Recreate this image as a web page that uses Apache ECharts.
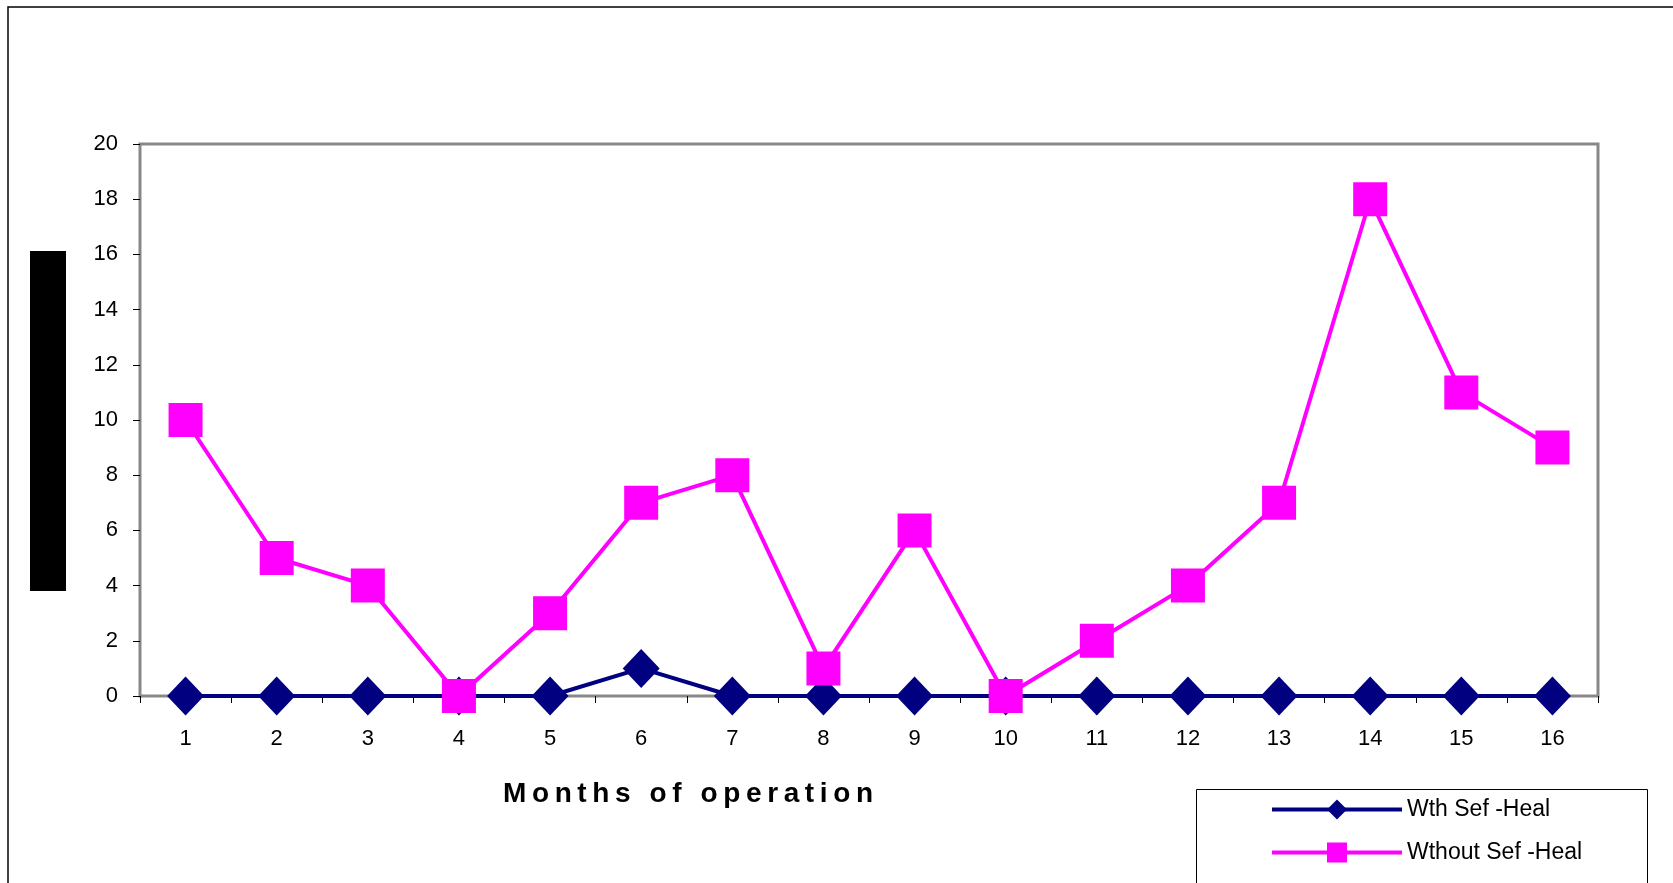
<!DOCTYPE html>
<html>
<head>
<meta charset="utf-8">
<script src="https://cdn.jsdelivr.net/npm/echarts@6/dist/echarts.min.js"></script>
<style>
  html, body { margin: 0; padding: 0; background: #fff; }
  #chart { width: 1673px; height: 883px; }
</style>
</head>
<body>
<div id="chart"></div>
<script>
// months on the x axis
var months = ['1', '2', '3', '4', '5', '6', '7', '8', '9', '10', '11', '12', '13', '14', '15', '16'];
// series values
var withHeal = [0, 0, 0, 0, 0, 1, 0, 0, 0, 0, 0, 0, 0, 0, 0, 0];
var withoutHeal = [10, 5, 4, 0, 3, 7, 8, 1, 6, 0, 2, 4, 7, 18, 11, 9];
var seriesNames = ['Wth Sef -Heal', 'Wthout Sef -Heal'];
var xTitle = 'Months of operation';

var font = 'Liberation Sans, Arial, sans-serif';
var chart = echarts.init(document.getElementById('chart'));

var option = {
  backgroundColor: '#fff',
  animation: false,
  textStyle: { fontFamily: font, color: '#000' },
  grid: {
    left: 140, top: 144, right: 75, bottom: 187,
    show: true, borderColor: '#888', borderWidth: 3, backgroundColor: 'transparent'
  },
  xAxis: {
    type: 'category',
    data: months,
    boundaryGap: true,
    axisLine: { show: false },
    axisTick: { show: true, interval: 0, length: 7, lineStyle: { color: '#000', width: 1 } },
    axisLabel: { fontSize: 22, color: '#000', margin: 32, fontFamily: font },
    splitLine: { show: false }
  },
  yAxis: {
    type: 'value',
    min: 0, max: 20, interval: 2,
    axisLine: { show: false },
    axisTick: { show: true, length: 7, lineStyle: { color: '#000', width: 1 } },
    axisLabel: { fontSize: 22, color: '#000', margin: 22, fontFamily: font },
    splitLine: { show: false }
  },
  legend: {
    orient: 'vertical',
    left: 1196, top: 789,
    itemWidth: 130, itemHeight: 25, itemGap: 20,
    padding: [9, 0, 0, 74],
    lineStyle: { width: 4 },
    textStyle: { fontSize: 23, color: '#000', fontFamily: font },
    data: seriesNames
  },
  series: [
    {
      name: seriesNames[0],
      type: 'line',
      data: withHeal,
      symbol: 'diamond',
      symbolSize: [37, 39],
      color: '#000080',
      lineStyle: { width: 4, color: '#000080' },
      itemStyle: { color: '#000080' }
    },
    {
      name: seriesNames[1],
      type: 'line',
      data: withoutHeal,
      symbol: 'rect',
      symbolSize: 34,
      color: '#ff00ff',
      lineStyle: { width: 4, color: '#ff00ff' },
      itemStyle: { color: '#ff00ff' }
    }
  ],
  graphic: [
    { type: 'rect', shape: { x: 8, y: 7, width: 1700, height: 1000 },
      style: { fill: 'none', stroke: '#000', lineWidth: 1.5 }, silent: true },
    { type: 'rect', shape: { x: 1196.5, y: 789.5, width: 451, height: 200 },
      style: { fill: 'none', stroke: '#000', lineWidth: 1 }, silent: true },
    { type: 'rect', shape: { x: 30, y: 251, width: 36, height: 340 },
      style: { fill: '#000' }, silent: true },
    { type: 'text', x: 688, y: 794,
      style: { text: xTitle.split('').join('\u2009'), fontSize: 28, fontWeight: 'bold',
               fontFamily: font, fill: '#000', align: 'center', verticalAlign: 'middle' } }
  ]
};

chart.setOption(option);
</script>
</body>
</html>
